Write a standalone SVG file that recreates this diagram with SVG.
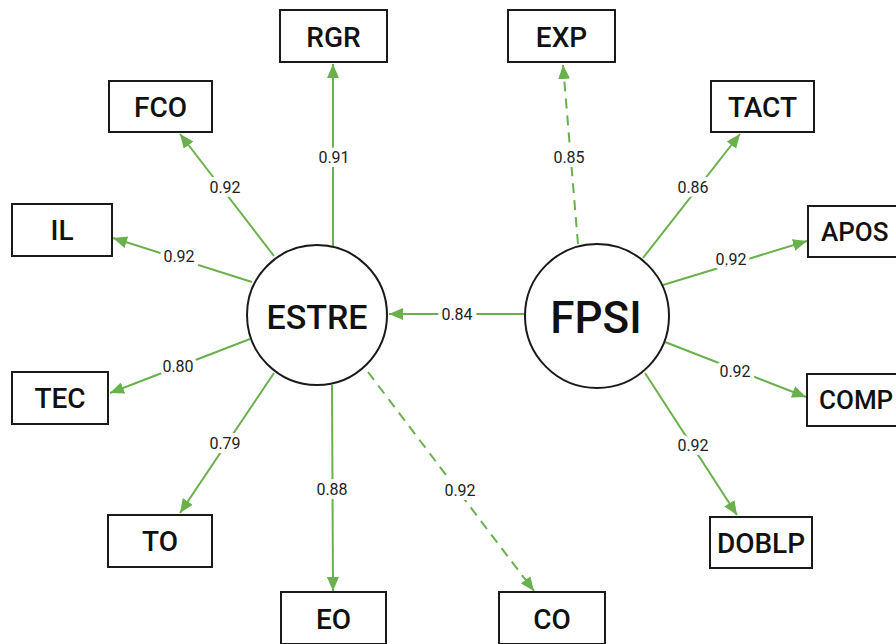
<svg xmlns="http://www.w3.org/2000/svg" width="896" height="644" viewBox="0 0 896 644">
  <defs>
    <marker id="arrow" viewBox="0 0 14 12" refX="14" refY="6" markerWidth="14" markerHeight="12" markerUnits="userSpaceOnUse" orient="auto">
      <path d="M0,0 L14,6 L0,12 Z" fill="#6ab04c"/>
    </marker>
    <style>
      .box { fill: #ffffff; stroke: #1a1a1a; stroke-width: 2; }
      .latent { fill: #ffffff; stroke: #1a1a1a; stroke-width: 2; }
      .name { font-family: Roboto, "Liberation Sans", sans-serif; font-size: 28px; font-weight: 500; fill: #111111; text-anchor: middle; dominant-baseline: central; }
      .edgeName { text-anchor: start; font-size: 26px; }
      .big { font-family: Roboto, "Liberation Sans", sans-serif; font-weight: 500; fill: #111111; text-anchor: middle; dominant-baseline: central; }
      .edge { stroke: #6ab04c; stroke-width: 2; fill: none; marker-end: url(#arrow); }
      .dash { stroke-dasharray: 10 7; }
      .w { font-family: Roboto, "Liberation Sans", sans-serif; font-size: 16px; fill: #222222; text-anchor: middle; dominant-baseline: central; stroke: #ffffff; stroke-width: 8; paint-order: stroke; }
    </style>
  </defs>
  <rect width="896" height="644" fill="#ffffff"/>

  <!-- loading paths -->
  <g id="connectors">
    <line class="edge" x1="333" y1="247" x2="333" y2="64"/>
    <line class="edge dash" x1="578" y1="244" x2="563" y2="65"/>
    <line class="edge" x1="274" y1="256" x2="180" y2="134"/>
    <line class="edge" x1="252" y1="282" x2="113" y2="238"/>
    <line class="edge" x1="525" y1="314" x2="389" y2="314"/>
    <line class="edge" x1="643" y1="258" x2="740" y2="134"/>
    <line class="edge" x1="663" y1="285" x2="807" y2="241"/>
    <line class="edge" x1="665" y1="342" x2="806" y2="397"/>
    <line class="edge" x1="645" y1="373" x2="737" y2="515"/>
    <line class="edge" x1="250" y1="339" x2="110" y2="393"/>
    <line class="edge" x1="274" y1="373" x2="180" y2="513"/>
    <line class="edge" x1="332" y1="385" x2="333" y2="591"/>
    <line class="edge dash" x1="368" y1="372" x2="534" y2="591"/>

    <text class="w" x="334" y="157">0.91</text>
    <text class="w" x="569" y="157">0.85</text>
    <text class="w" x="225" y="187">0.92</text>
    <text class="w" x="179" y="256">0.92</text>
    <text class="w" x="457" y="314">0.84</text>
    <text class="w" x="693" y="187">0.86</text>
    <text class="w" x="731" y="259">0.92</text>
    <text class="w" x="735" y="371">0.92</text>
    <text class="w" x="693" y="445">0.92</text>
    <text class="w" x="178" y="366">0.80</text>
    <text class="w" x="225" y="443">0.79</text>
    <text class="w" x="332" y="489">0.88</text>
    <text class="w" x="460" y="490">0.92</text>
  </g>

  <g id="ESTRE">
    <circle class="latent" cx="317" cy="315" r="70"/>
    <text class="big" x="317" y="317" font-size="34">ESTRE</text>
  </g>
  <g id="FPSI">
    <circle class="latent" cx="597" cy="316" r="72"/>
    <text class="big" x="596" y="318" font-size="44">FPSI</text>
  </g>

  <g id="RGR"><rect class="box" x="280" y="10" width="107" height="52"/><text class="name" x="333.5" y="37">RGR</text></g>
  <g id="EXP"><rect class="box" x="508" y="10" width="107" height="52"/><text class="name" x="561.5" y="37">EXP</text></g>
  <g id="FCO"><rect class="box" x="109" y="81" width="103" height="51"/><text class="name" x="160.5" y="107">FCO</text></g>
  <g id="IL"><rect class="box" x="12" y="204" width="100" height="52"/><text class="name" x="62" y="230">IL</text></g>
  <g id="TEC"><rect class="box" x="12" y="372" width="96" height="52"/><text class="name" x="60" y="398">TEC</text></g>
  <g id="TO"><rect class="box" x="108" y="515" width="104" height="52"/><text class="name" x="160" y="541">TO</text></g>
  <g id="EO"><rect class="box" x="281" y="592" width="105" height="52"/><text class="name" x="333.5" y="619">EO</text></g>
  <g id="CO"><rect class="box" x="499" y="592" width="106" height="52"/><text class="name" x="552" y="619">CO</text></g>
  <g id="TACT"><rect class="box" x="711" y="81" width="103" height="51"/><text class="name" x="762.5" y="107">TACT</text></g>
  <g id="APOS"><rect class="box" x="808" y="206" width="103" height="51"/><text class="name edgeName" x="821" y="232">APOS</text></g>
  <g id="COMP"><rect class="box" x="807" y="374" width="103" height="52"/><text class="name edgeName" x="819" y="400" font-size="25">COMP</text></g>
  <g id="DOBLP"><rect class="box" x="710" y="517" width="102" height="51"/><text class="name" x="761" y="543" font-size="23">DOBLP</text></g>
</svg>
